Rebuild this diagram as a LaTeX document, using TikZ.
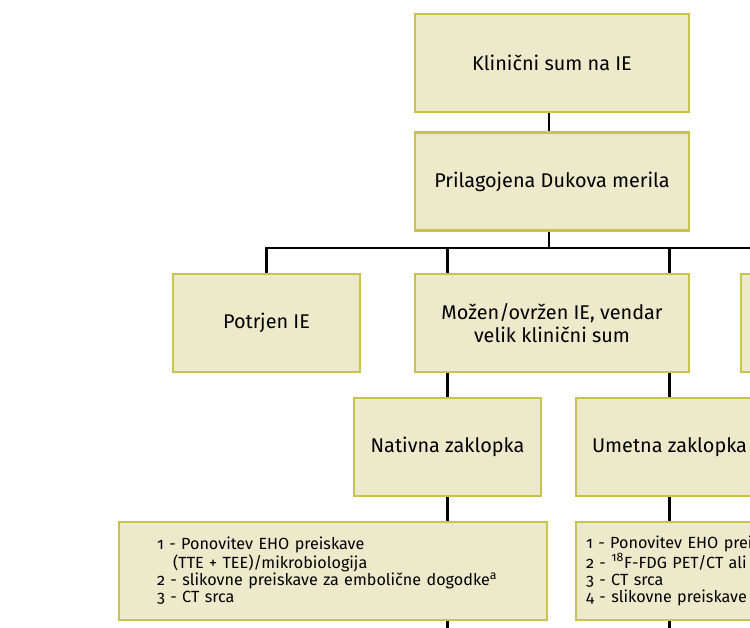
\documentclass[tikz,border=0pt]{standalone}
\usepackage{fontspec}
\setmainfont{Fira Sans}[Numbers=OldStyle]
\usetikzlibrary{positioning}
\definecolor{boxfill}{HTML}{ECEACB}
\definecolor{boxline}{HTML}{C8C34B}

\begin{document}
\begin{tikzpicture}[x=0.02cm, y=-0.02cm,
    box/.style={rectangle, draw=boxline, fill=boxfill, line width=1.4pt, minimum height=1.96cm, inner sep=0pt, align=center, font=\fontsize{11.3}{13}\selectfont},
    wide/.style={box, minimum width=5.48cm},
    mid/.style={box, minimum width=3.74cm},
    list/.style={box, minimum width=8.56cm, align=left, font=\fontsize{9.2}{9.7}\selectfont},
    link/.style={line width=1.2pt}]
    \useasboundingbox (0,0) rectangle (750,628);
    \clip (0,0) rectangle (750,628);

    % Nodes
    \node (klin) [wide] at (552,63) {Klinični sum na IE};
    \node (duk) [wide] at (552,181.5) {Prilagojena Dukova merila};
    \node (potrjen) [mid] at (266.5,323) {Potrjen IE};
    \node (mozen) [wide] at (552,323) {Možen/ovržen IE, vendar\\velik klinični sum};
    \node (desno) [mid] at (834.5,323) {};
    \node (nativna) [mid] at (447.5,447) {Nativna zaklopka};
    \node (umetna) [mid] at (669.5,447) {Umetna zaklopka};
    \node (natlist) [list, text width=7.04cm, inner xsep=0.76cm] at (333,571) {1 - Ponovitev EHO preiskave\\\hspace*{1em}(TTE + TEE)/mikrobiologija\\2 - slikovne preiskave za embolične dogodke\textsuperscript{\scriptsize a}\\3 - CT srca};
    \node (umlist) [list, text width=8.16cm, inner xsep=0.2cm] at (790,571) {1 - Ponovitev EHO preiskave\\2 - \textsuperscript{\scriptsize 18}F-FDG PET/CT ali\\3 - CT srca\\4 - slikovne preiskave};

    % Lines
    \coordinate (bus) at (549,248);
    \coordinate (natend) at (447.5,640);
    \coordinate (umend) at (669.5,640);
    \draw[link] (klin.south -| bus) -- (duk.north -| bus);
    \draw[link] (duk.south -| bus) -- (bus);
    \draw[link] (potrjen.north) |- (bus) -| (desno.north);
    \draw[link] (nativna.north |- bus) -- (nativna.north |- mozen.north);
    \draw[link] (umetna.north |- bus) -- (umetna.north |- mozen.north);
    \draw[link] (nativna.north |- mozen.south) -- (nativna);
    \draw[link] (umetna.north |- mozen.south) -- (umetna);
    \draw[link] (nativna) -- (nativna |- natlist.north);
    \draw[link] (umetna) -- (umetna |- umlist.north);
    \draw[link] (nativna |- natlist.south) -- (natend);
    \draw[link] (umetna |- umlist.south) -- (umend);
\end{tikzpicture}
\end{document}
